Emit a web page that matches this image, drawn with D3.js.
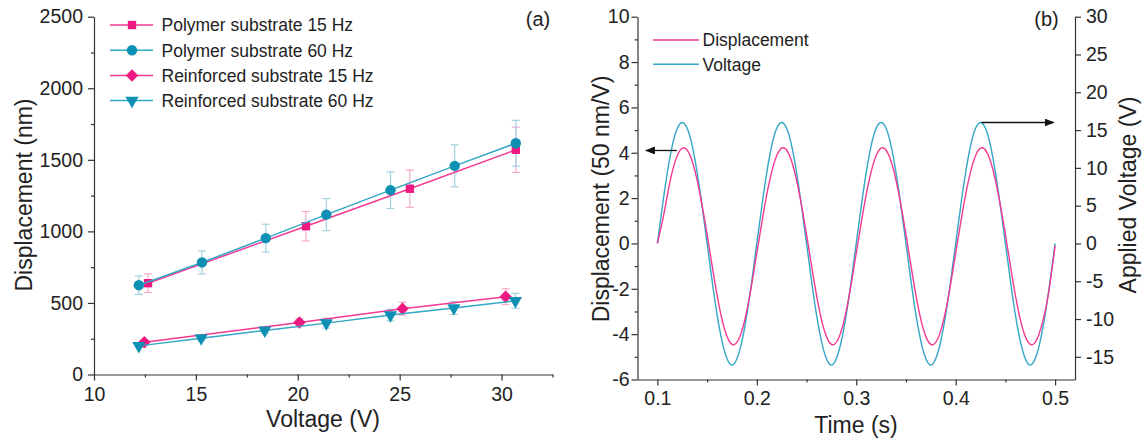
<!DOCTYPE html>
<html>
<head>
<meta charset="utf-8">
<script src="https://cdn.jsdelivr.net/npm/d3@7"></script>
<style>
  body { margin: 0; background: #fff; }
  svg { font-family: "Liberation Sans", Arial, sans-serif; }
  .axis path, .axis line { stroke: #333; stroke-width: 1.2; }
  .axis text { fill: #222; }
</style>
</head>
<body>
<div id="chart"></div>
<script>
// ---------- panel (a) data ----------
var poly15V = [12.65, 20.4, 25.5, 30.7];
var poly15D = [638, 1036, 1298, 1570];
var poly15Err = [65, 103, 130, 158];

var poly60V = [12.2, 15.3, 18.43, 21.4, 24.55, 27.7, 30.7];
var poly60D = [624, 783, 953, 1117, 1288, 1458, 1616];
var poly60Err = [65, 80, 97, 112, 128, 147, 160];

var reinf15V = [12.47, 20.08, 25.14, 30.2];
var reinf15D = [226, 364, 460, 544];
var reinf15Err = [12, 25, 45, 55];

var reinf60V = [12.2, 15.26, 18.38, 21.4, 24.55, 27.66, 30.68];
var reinf60D = [200, 254, 308, 359, 415, 465, 515];
var reinf60Err = [10, 15, 20, 35, 40, 45, 52];

var seriesNames = ["Polymer substrate 15 Hz", "Polymer substrate 60 Hz",
                   "Reinforced substrate 15 Hz", "Reinforced substrate 60 Hz"];

var aXTicks = [10, 15, 20, 25, 30], aXMinor = [12.5, 17.5, 22.5, 27.5, 32.5];
var aYTicks = [0, 500, 1000, 1500, 2000, 2500], aYMinor = [250, 750, 1250, 1750, 2250];

// ---------- panel (b) data ----------
// samples every 6.25 ms from 0.1 s
var timeStart = 0.1, timeStep = 0.00625;
var voltage = [
  0, 6.1, 11.3, 14.8, 16, 14.8, 11.3, 6.1, 0, -6.1, -11.3, -14.8, -16.1, -14.8, -11.3, -6.1,
  0, 6.1, 11.3, 14.8, 16, 14.8, 11.3, 6.1, 0, -6.1, -11.3, -14.8, -16.1, -14.8, -11.3, -6.1,
  0, 6.1, 11.3, 14.8, 16, 14.8, 11.3, 6.1, 0, -6.1, -11.3, -14.8, -16.1, -14.8, -11.3, -6.1,
  0, 6.1, 11.3, 14.8, 16, 14.8, 11.3, 6.1, 0, -6.1, -11.3, -14.8, -16.1, -14.8, -11.3, -6.1,
  0];
var displacement = [
  0, 1.24, 2.69, 3.73, 4.2, 4.03, 3.25, 1.97, 0.4, -1.31, -2.85, -3.95, -4.45, -4.27, -3.45, -2.09,
  -0.42, 1.24, 2.69, 3.73, 4.2, 4.03, 3.25, 1.97, 0.4, -1.31, -2.85, -3.95, -4.45, -4.27, -3.45, -2.09,
  -0.42, 1.24, 2.69, 3.73, 4.2, 4.03, 3.25, 1.97, 0.4, -1.31, -2.85, -3.95, -4.45, -4.27, -3.45, -2.09,
  -0.42, 1.24, 2.69, 3.73, 4.2, 4.03, 3.25, 1.97, 0.4, -1.31, -2.85, -3.95, -4.45, -4.27, -3.45, -2.09,
  -0.1];

var bXTicks = [0.1, 0.2, 0.3, 0.4, 0.5], bXMinor = [0.15, 0.25, 0.35, 0.45];
var bYTicks = [-6, -4, -2, 0, 2, 4, 6, 8, 10], bYMinor = [-5, -3, -1, 1, 3, 5, 7, 9];
var bRTicks = [-15, -10, -5, 0, 5, 10, 15, 20, 25, 30];

var pinkLine = "#f23a92", pinkMark = "#ee1a82", pinkErr = "#f6a9cb";
var blueLine = "#34a6c6", blueMark = "#0e90b4", blueErr = "#a3d2df";

var svg = d3.select("#chart").append("svg")
    .attr("width", 1145)
    .attr("height", 441);

function fmt(d) { return String(d); }

// draws a major + minor axis pair
function addAxis(axisFn, scale, major, minor, transform, pad) {
  svg.append("g").attr("class", "axis").attr("transform", transform)
    .call(axisFn(scale).tickValues(major).tickSize(6).tickSizeOuter(0).tickPadding(pad).tickFormat(fmt))
    .selectAll("text").style("font-size", "19.5px");
  if (minor) {
    svg.append("g").attr("class", "axis").attr("transform", transform)
      .call(axisFn(scale).tickValues(minor).tickSize(3).tickSizeOuter(0).tickFormat(""))
      .select(".domain").remove();
  }
}

// ================= panel (a) =================
var xa = d3.scaleLinear().domain([10, 32.5]).range([94, 552.5]);
var ya = d3.scaleLinear().domain([0, 2500]).range([374.5, 16.7]);

addAxis(d3.axisBottom, xa, aXTicks, aXMinor, "translate(0,374.5)", 7);
addAxis(d3.axisLeft, ya, aYTicks, aYMinor, "translate(94,0)", 5);

var seriesA = [
  {name: seriesNames[0], v: poly15V, d: poly15D, e: poly15Err, line: pinkLine, mark: pinkMark, err: pinkErr, sym: "square"},
  {name: seriesNames[1], v: poly60V, d: poly60D, e: poly60Err, line: blueLine, mark: blueMark, err: blueErr, sym: "circle"},
  {name: seriesNames[2], v: reinf15V, d: reinf15D, e: reinf15Err, line: pinkLine, mark: pinkMark, err: pinkErr, sym: "diamond"},
  {name: seriesNames[3], v: reinf60V, d: reinf60D, e: reinf60Err, line: blueLine, mark: blueMark, err: blueErr, sym: "triangle"}
];

function symbolPath(sym) {
  if (sym == "square") return d3.symbol().type(d3.symbolSquare).size(70)();
  if (sym == "circle") return d3.symbol().type(d3.symbolCircle).size(85)();
  if (sym == "diamond") return d3.symbol().type(d3.symbolSquare).size(78)();
  return d3.symbol().type(d3.symbolTriangle).size(75)();
}
function symbolRot(sym) {
  if (sym == "triangle") return " rotate(180)";
  if (sym == "diamond") return " rotate(45)";
  return "";
}

// error bars first
seriesA.forEach(function(s) {
  var g = svg.append("g").attr("stroke", s.err).attr("stroke-width", 1.2);
  s.v.forEach(function(v, i) {
    var x = xa(v), y1 = ya(s.d[i] + s.e[i]), y2 = ya(s.d[i] - s.e[i]);
    g.append("line").attr("x1", x).attr("x2", x).attr("y1", y1).attr("y2", y2);
    g.append("line").attr("x1", x - 4).attr("x2", x + 4).attr("y1", y1).attr("y2", y1);
    g.append("line").attr("x1", x - 4).attr("x2", x + 4).attr("y1", y2).attr("y2", y2);
  });
});

var lineA = d3.line()
    .x(function(p) { return xa(p[0]); })
    .y(function(p) { return ya(p[1]); });

seriesA.forEach(function(s) {
  var pts = s.v.map(function(v, i) { return [v, s.d[i]]; });
  svg.append("path").datum(pts)
    .attr("fill", "none").attr("stroke", s.line).attr("stroke-width", 1.5)
    .attr("d", lineA);
  svg.append("g").selectAll("path").data(pts).enter().append("path")
    .attr("d", symbolPath(s.sym))
    .attr("fill", s.mark)
    .attr("transform", function(p) { return "translate(" + xa(p[0]) + "," + ya(p[1]) + ")" + symbolRot(s.sym); });
});

// legend (a)
seriesA.forEach(function(s, i) {
  var y = 25 + i * 25.2;
  svg.append("line").attr("x1", 110).attr("x2", 153).attr("y1", y).attr("y2", y)
    .attr("stroke", s.line).attr("stroke-width", 1.5);
  svg.append("path").attr("d", symbolPath(s.sym)).attr("fill", s.mark)
    .attr("transform", "translate(132," + y + ")" + symbolRot(s.sym));
  svg.append("text").attr("x", 161.5).attr("y", y + 6.3)
    .style("font-size", "17.5px").attr("fill", "#222").text(s.name);
});

svg.append("text").attr("x", 538).attr("y", 26).attr("text-anchor", "middle")
  .style("font-size", "20px").attr("fill", "#222").text("(a)");

svg.append("text").attr("transform", "translate(32,195) rotate(-90)")
  .attr("text-anchor", "middle").style("font-size", "23px").attr("fill", "#222")
  .text("Displacement (nm)");
svg.append("text").attr("x", 323).attr("y", 427).attr("text-anchor", "middle")
  .style("font-size", "23px").attr("fill", "#222").text("Voltage (V)");

// ================= panel (b) =================
var xb = d3.scaleLinear().domain([0.08, 0.52]).range([637.5, 1075]);
var yb = d3.scaleLinear().domain([-6, 10]).range([379.5, 16.7]);
var yr = d3.scaleLinear().domain([-18, 30]).range([379.5, 16.7]);

addAxis(d3.axisBottom, xb, bXTicks, bXMinor, "translate(0,379.5)", 6);
addAxis(d3.axisLeft, yb, bYTicks, bYMinor, "translate(637.5,0)", 2);
addAxis(d3.axisRight, yr, bRTicks, null, "translate(1075,0)", 5);

var dispLine = d3.line().curve(d3.curveNatural)
    .x(function(d, i) { return xb(timeStart + i * timeStep); })
    .y(function(d) { return yb(d); });
var voltLine = d3.line().curve(d3.curveNatural)
    .x(function(d, i) { return xb(timeStart + i * timeStep); })
    .y(function(d) { return yr(d); });

svg.append("path").datum(voltage)
  .attr("fill", "none").attr("stroke", blueLine).attr("stroke-width", 1.4).attr("d", voltLine);
svg.append("path").datum(displacement)
  .attr("fill", "none").attr("stroke", pinkLine).attr("stroke-width", 1.4).attr("d", dispLine);

// legend (b)
[["Displacement", pinkLine], ["Voltage", blueLine]].forEach(function(l, i) {
  var y = 40 + i * 24.3;
  svg.append("line").attr("x1", 653).attr("x2", 699).attr("y1", y).attr("y2", y)
    .attr("stroke", l[1]).attr("stroke-width", 1.5);
  svg.append("text").attr("x", 702.5).attr("y", y + 6.3)
    .style("font-size", "17.5px").attr("fill", "#222").text(l[0]);
});

// arrows pointing to the axis of each curve
svg.append("defs").append("marker")
    .attr("id", "arrow").attr("viewBox", "0 0 10 8")
    .attr("refX", 9).attr("refY", 4)
    .attr("markerWidth", 10).attr("markerHeight", 8)
    .attr("markerUnits", "userSpaceOnUse").attr("orient", "auto")
  .append("path").attr("d", "M0,0 L10,4 L0,8 Z").attr("fill", "#111");

svg.append("line")
  .attr("x1", xb(0.1195)).attr("x2", xb(0.0885)).attr("y1", yb(4.1)).attr("y2", yb(4.1))
  .attr("stroke", "#111").attr("stroke-width", 1.3).attr("marker-end", "url(#arrow)");
svg.append("line")
  .attr("x1", xb(0.426)).attr("x2", xb(0.4985)).attr("y1", yr(16)).attr("y2", yr(16))
  .attr("stroke", "#111").attr("stroke-width", 1.3).attr("marker-end", "url(#arrow)");

svg.append("text").attr("x", 1046.5).attr("y", 26).attr("text-anchor", "middle")
  .style("font-size", "20px").attr("fill", "#222").text("(b)");

svg.append("text").attr("transform", "translate(609,199) rotate(-90)")
  .attr("text-anchor", "middle").style("font-size", "23px").attr("fill", "#222")
  .text("Displacement (50 nm/V)");
svg.append("text").attr("transform", "translate(1136,195) rotate(-90)")
  .attr("text-anchor", "middle").style("font-size", "23px").attr("fill", "#222")
  .text("Applied Voltage (V)");
svg.append("text").attr("x", 856).attr("y", 433).attr("text-anchor", "middle")
  .style("font-size", "23px").attr("fill", "#222").text("Time (s)");
</script>
</body>
</html>
